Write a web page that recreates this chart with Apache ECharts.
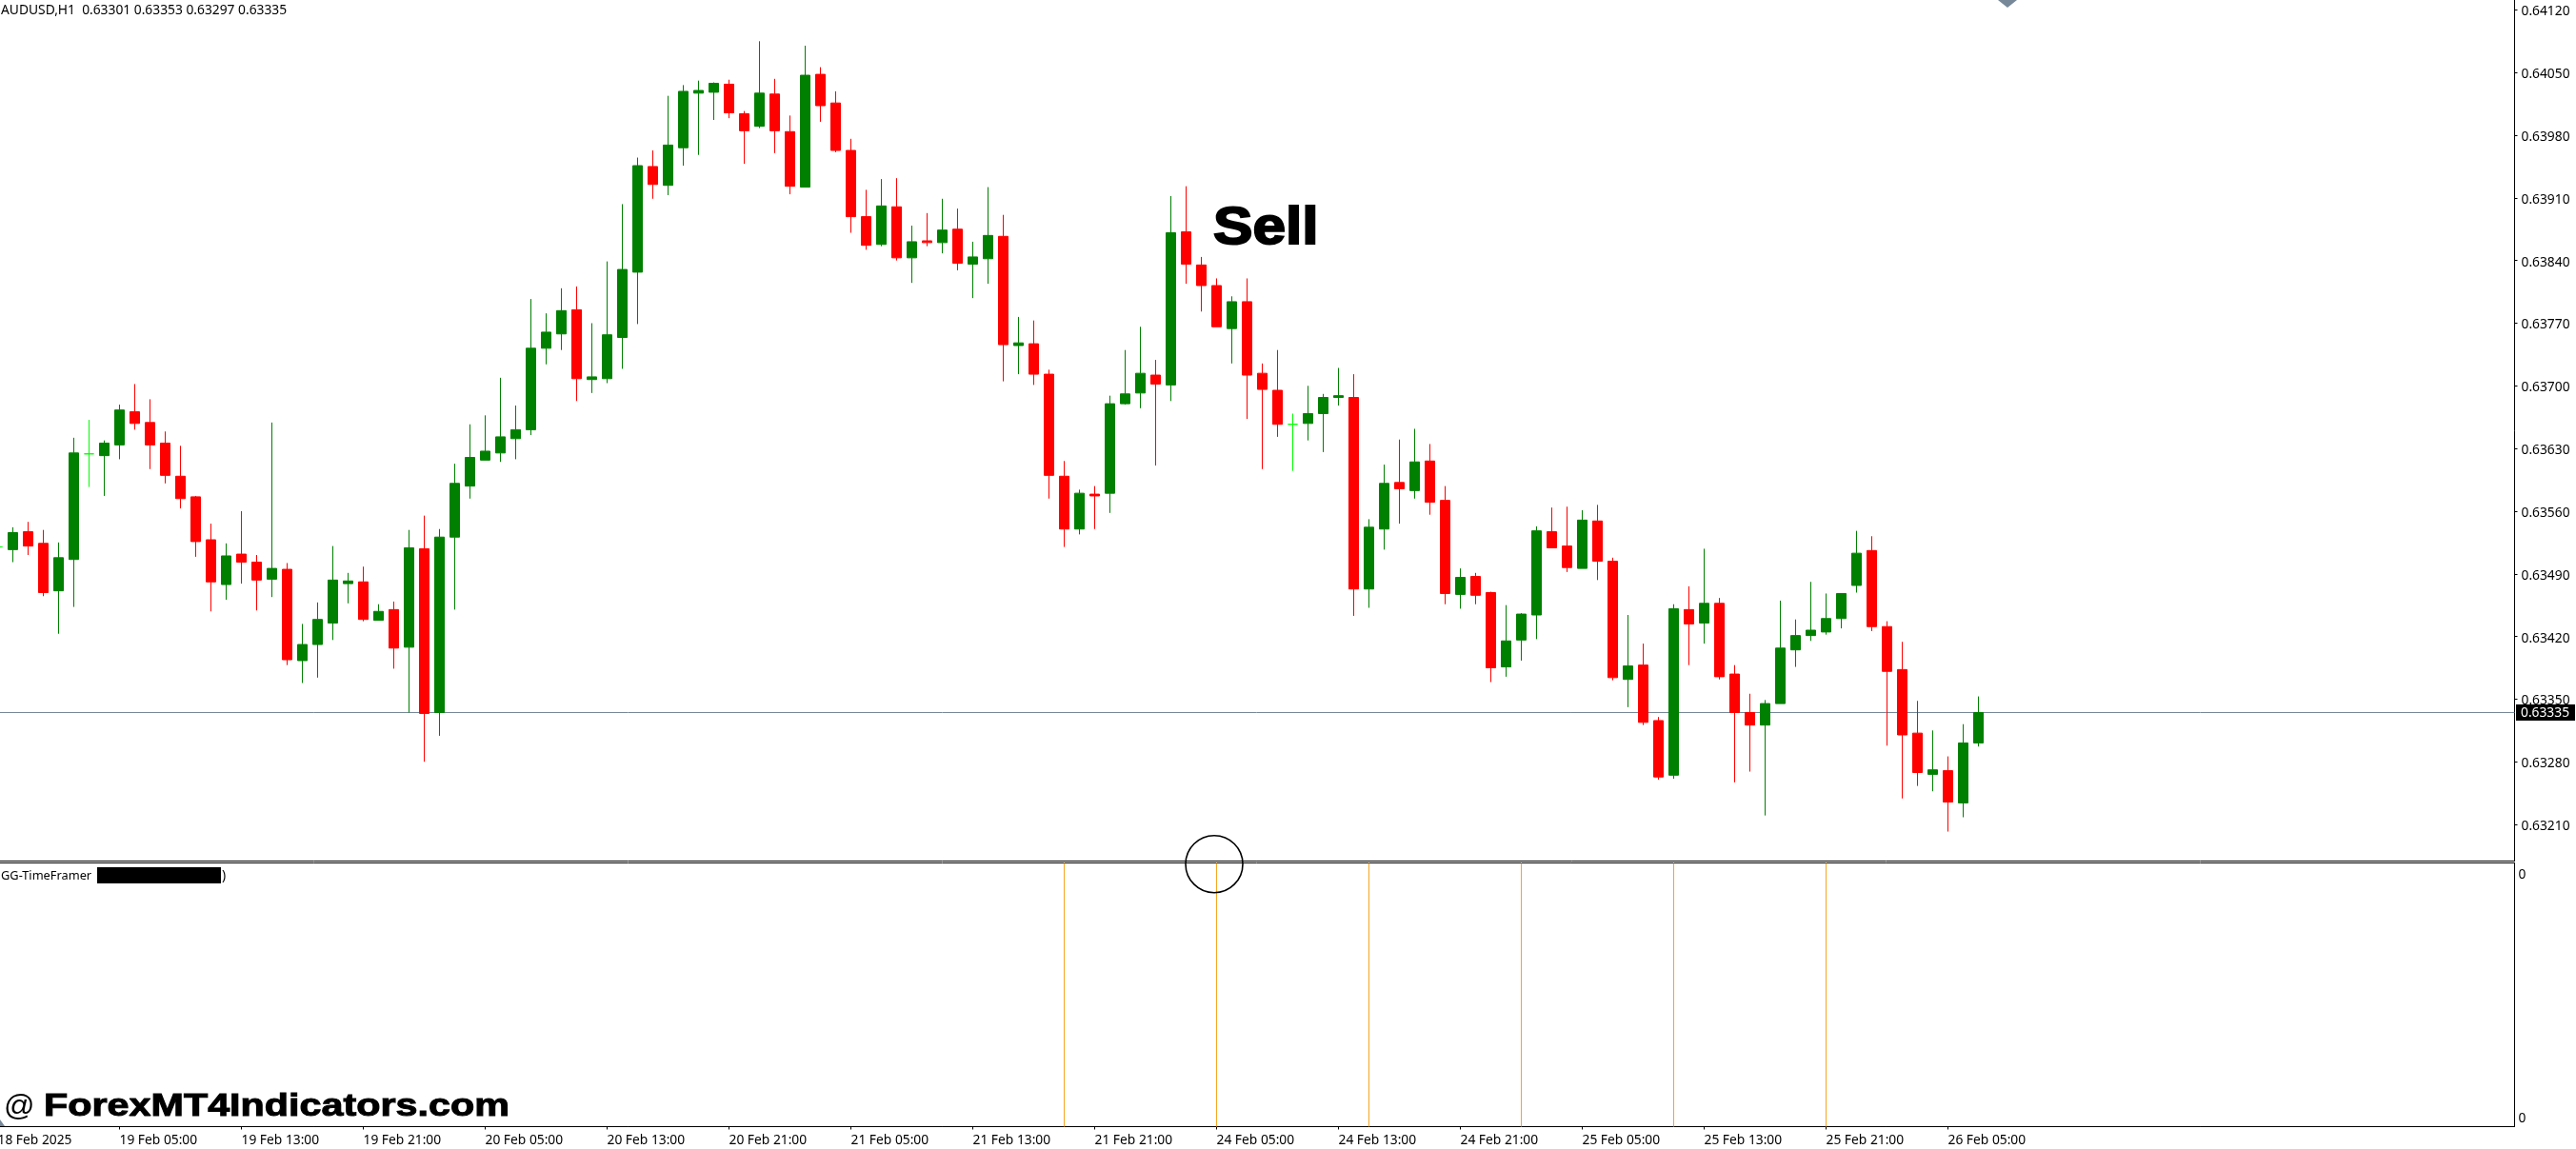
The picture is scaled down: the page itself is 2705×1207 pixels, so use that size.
<!DOCTYPE html>
<html>
<head>
<meta charset="utf-8">
<style>html,body{margin:0;padding:0;background:#fff}#c{width:2705px;height:1207px}</style>
<script src="https://cdn.jsdelivr.net/npm/echarts@6/dist/echarts.min.js"></script>
</head>
<body>
<div id="c"></div>
<script>
const symbolText = 'AUDUSD,H1  0.63301 0.63353 0.63297 0.63335';
const indicatorName = 'GG-TimeFramer';
const signalText = 'Sell';
const watermarkText = 'ForexMT4Indicators.com';
const lastPrice = 0.63335;
const priceTicks = [0.6412,0.6405,0.6398,0.6391,0.6384,0.6377,0.6370,0.6363,0.6356,0.6349,0.6342,0.6335,0.6328,0.6321];
const timeLabels = ['18 Feb 2025','19 Feb 05:00','19 Feb 13:00','19 Feb 21:00','20 Feb 05:00','20 Feb 13:00','20 Feb 21:00','21 Feb 05:00','21 Feb 13:00','21 Feb 21:00','24 Feb 05:00','24 Feb 13:00','24 Feb 21:00','25 Feb 05:00','25 Feb 13:00','25 Feb 21:00','26 Feb 05:00'];
const timeframeMarks = [70,80,90,100,110,120];

const opens = [0.63520,0.63517,0.63537,0.63524,0.63471,0.63506,0.63624,0.63622,0.63634,0.63671,0.63659,0.63636,0.63599,0.63576,0.63528,0.63478,0.63512,0.63503,0.63484,0.63495,0.63393,0.63411,0.63435,0.63479,0.63481,0.63438,0.63450,0.63408,0.63518,0.63335,0.63531,0.63588,0.63617,0.63625,0.63641,0.63651,0.63742,0.63758,0.63785,0.63707,0.63708,0.63754,0.63827,0.63945,0.63924,0.63966,0.64027,0.64028,0.64037,0.64004,0.63990,0.64026,0.63984,0.63922,0.64048,0.64016,0.63963,0.63889,0.63858,0.63900,0.63843,0.63862,0.63860,0.63875,0.63836,0.63842,0.63867,0.63745,0.63747,0.63713,0.63599,0.63540,0.63579,0.63580,0.63680,0.63692,0.63712,0.63701,0.63872,0.63835,0.63812,0.63764,0.63794,0.63714,0.63695,0.63657,0.63658,0.63669,0.63687,0.63687,0.63473,0.63540,0.63592,0.63583,0.63616,0.63572,0.63467,0.63487,0.63469,0.63386,0.63416,0.63444,0.63537,0.63521,0.63496,0.63549,0.63504,0.63372,0.63388,0.63326,0.63265,0.63450,0.63435,0.63457,0.63378,0.63335,0.63321,0.63345,0.63405,0.63421,0.63425,0.63440,0.63477,0.63516,0.63431,0.63383,0.63312,0.63266,0.63270,0.63234,0.63301];
const closes = [0.63520,0.63536,0.63521,0.63469,0.63508,0.63625,0.63624,0.63636,0.63673,0.63658,0.63634,0.63600,0.63574,0.63526,0.63481,0.63510,0.63503,0.63483,0.63496,0.63394,0.63411,0.63439,0.63483,0.63482,0.63439,0.63448,0.63407,0.63519,0.63334,0.63531,0.63591,0.63620,0.63627,0.63643,0.63651,0.63742,0.63760,0.63784,0.63708,0.63710,0.63757,0.63830,0.63946,0.63925,0.63969,0.64029,0.64030,0.64038,0.64005,0.63985,0.64027,0.63985,0.63923,0.64047,0.64013,0.63963,0.63889,0.63857,0.63901,0.63843,0.63861,0.63860,0.63874,0.63837,0.63844,0.63868,0.63746,0.63748,0.63713,0.63600,0.63540,0.63580,0.63577,0.63680,0.63691,0.63714,0.63702,0.63871,0.63836,0.63812,0.63766,0.63794,0.63712,0.63696,0.63657,0.63657,0.63669,0.63687,0.63689,0.63473,0.63542,0.63591,0.63585,0.63615,0.63570,0.63468,0.63486,0.63466,0.63385,0.63415,0.63445,0.63538,0.63519,0.63497,0.63550,0.63504,0.63374,0.63387,0.63324,0.63263,0.63451,0.63434,0.63457,0.63375,0.63335,0.63321,0.63345,0.63407,0.63421,0.63427,0.63440,0.63468,0.63513,0.63431,0.63381,0.63310,0.63268,0.63271,0.63235,0.63301,0.63335];
const lows = [0.63510,0.63503,0.63511,0.63465,0.63423,0.63453,0.63587,0.63577,0.63618,0.63651,0.63607,0.63591,0.63563,0.63509,0.63448,0.63461,0.63479,0.63449,0.63464,0.63388,0.63368,0.63374,0.63416,0.63457,0.63437,0.63438,0.63384,0.63335,0.63280,0.63309,0.63450,0.63574,0.63617,0.63615,0.63618,0.63645,0.63724,0.63740,0.63683,0.63692,0.63703,0.63719,0.63769,0.63909,0.63913,0.63946,0.63958,0.63997,0.63999,0.63948,0.63988,0.63960,0.63914,0.63922,0.63995,0.63961,0.63871,0.63852,0.63856,0.63840,0.63815,0.63856,0.63848,0.63829,0.63798,0.63814,0.63705,0.63713,0.63701,0.63574,0.63520,0.63534,0.63540,0.63558,0.63679,0.63675,0.63611,0.63683,0.63814,0.63783,0.63766,0.63725,0.63663,0.63607,0.63643,0.63605,0.63639,0.63626,0.63678,0.63443,0.63452,0.63517,0.63546,0.63574,0.63556,0.63456,0.63451,0.63456,0.63369,0.63375,0.63393,0.63417,0.63519,0.63492,0.63496,0.63483,0.63371,0.63341,0.63321,0.63260,0.63261,0.63388,0.63412,0.63372,0.63257,0.63269,0.63220,0.63345,0.63386,0.63415,0.63422,0.63429,0.63469,0.63426,0.63298,0.63239,0.63253,0.63247,0.63202,0.63218,0.63297];
const highs = [0.63530,0.63542,0.63548,0.63539,0.63525,0.63642,0.63662,0.63639,0.63679,0.63702,0.63685,0.63649,0.63633,0.63577,0.63546,0.63524,0.63560,0.63511,0.63659,0.63502,0.63434,0.63458,0.63521,0.63491,0.63498,0.63456,0.63459,0.63539,0.63555,0.63540,0.63613,0.63657,0.63667,0.63709,0.63678,0.63797,0.63781,0.63809,0.63811,0.63770,0.63839,0.63903,0.63955,0.63963,0.64024,0.64036,0.64041,0.64039,0.64042,0.64007,0.64085,0.64043,0.64002,0.64080,0.64056,0.64029,0.63976,0.63919,0.63931,0.63932,0.63879,0.63893,0.63909,0.63898,0.63861,0.63922,0.63891,0.63777,0.63773,0.63718,0.63616,0.63584,0.63588,0.63689,0.63740,0.63766,0.63729,0.63912,0.63923,0.63844,0.63820,0.63800,0.63820,0.63725,0.63740,0.63669,0.63700,0.63691,0.63720,0.63713,0.63551,0.63612,0.63640,0.63652,0.63635,0.63588,0.63496,0.63491,0.63470,0.63455,0.63446,0.63543,0.63564,0.63565,0.63561,0.63567,0.63508,0.63444,0.63412,0.63330,0.63456,0.63476,0.63518,0.63463,0.63388,0.63356,0.63349,0.63460,0.63439,0.63481,0.63468,0.63468,0.63538,0.63532,0.63437,0.63414,0.63348,0.63315,0.63286,0.63322,0.63353];

const candles = opens.map((o, i) => [i, o, closes[i], lows[i], highs[i]]);
const tfBars = timeframeMarks.map(x => [x, 1]);

const FONT = '"Noto Sans"';
const FS = 13.8;
const X_MAX = 165.1875;

const chart = echarts.init(document.getElementById('c'), null, {renderer:'canvas', width:2705, height:1207});

const xBase = {type:'value', min:0, max:X_MAX, splitLine:{show:false}};
const option = {
  animation:false,
  backgroundColor:'#ffffff',
  grid:[
    {left:-2.5, right:64.5, top:0, bottom:302.5, containLabel:false, outerBoundsMode:'none'},
    {left:-2.5, right:64.5, top:906.5, bottom:23.5, containLabel:false, outerBoundsMode:'none', show:true, borderColor:'#000', borderWidth:1, backgroundColor:'transparent'}
  ],
  xAxis:[
    Object.assign({}, xBase, {gridIndex:0, axisLine:{show:true, onZero:false, lineStyle:{color:'#000',width:1}}, axisTick:{show:false}, axisLabel:{show:false}}),
    Object.assign({}, xBase, {gridIndex:1, axisLine:{show:true, onZero:false, lineStyle:{color:'#000',width:1}},
      axisTick:{show:true, length:3, lineStyle:{color:'#000',width:1}, customValues:timeLabels.map((_, i) => i*8)},
      axisLabel:{show:true, color:'#000', fontFamily:FONT, fontSize:FS, align:'left', margin:8, hideOverlap:false,
        customValues:timeLabels.map((_, i) => i*8),
        formatter:v => timeLabels[Math.round(v/8)] || ''}})
  ],
  yAxis:[
    {type:'value', gridIndex:0, position:'right', min:0.63169088, max:0.64131061, scale:true, splitLine:{show:false},
      axisLine:{show:true, onZero:false, lineStyle:{color:'#000',width:1}},
      axisTick:{show:true, length:3, lineStyle:{color:'#000',width:1}, customValues:priceTicks},
      axisLabel:{show:true, color:'#000', fontFamily:FONT, fontSize:FS, margin:7, verticalAlign:'top', lineHeight:4, hideOverlap:false, customValues:priceTicks,
        formatter:v => v.toFixed(5)}},
    {type:'value', gridIndex:1, position:'right', min:0, max:1, splitLine:{show:false},
      axisLine:{show:true, onZero:false, lineStyle:{color:'#000',width:1}},
      axisTick:{show:false},
      axisLabel:{show:true, color:'#000', fontFamily:FONT, fontSize:FS, margin:4, verticalAlign:'top', lineHeight:2, hideOverlap:false, customValues:[0.0325,0.96],
        formatter:() => '0'}}
  ],
  series:[
    {type:'line', name:'Last', xAxisIndex:0, yAxisIndex:0, z:1, symbol:'none', silent:true,
      lineStyle:{color:'#778899', width:1}, data:[[0,lastPrice],[X_MAX,lastPrice]]},
    {type:'candlestick', name:'AUDUSD', xAxisIndex:0, yAxisIndex:0, z:3, barWidth:10, silent:true,
      itemStyle:{color:'#008000', color0:'#ff0000', borderColor:'#008000', borderColor0:'#ff0000', borderColorDoji:'#00ff00', borderWidth:1},
      data:candles},
    {type:'bar', name:indicatorName, xAxisIndex:1, yAxisIndex:1, barWidth:1, silent:true,
      itemStyle:{color:'#f5a623'}, data:tfBars}
  ],
  graphic:[]
};
chart.setOption(option);

const lastY = chart.convertToPixel({yAxisIndex:0}, lastPrice);
const textBase = {fontFamily:FONT, fontSize:FS, fill:'#000', verticalAlign:'middle', align:'left'};
const heavy = {fontFamily:'"Liberation Sans"', fontWeight:'bold', fill:'#000', stroke:'#000', verticalAlign:'middle', align:'left'};
chart.setOption({graphic:[
  {type:'text', x:1, y:11.5, z:50, style:Object.assign({text:symbolText}, textBase)},
  {type:'text', x:1, y:920, z:50, style:Object.assign({}, textBase, {text:indicatorName, fontSize:12.8})},
  {type:'rect', x:102, y:911, z:50, shape:{width:130, height:17}, style:{fill:'#000'}},
  {type:'text', x:233, y:920, z:50, style:Object.assign({text:')'}, textBase)},
  {type:'rect', x:2642, y:lastY-8.5, z:50, shape:{width:62, height:17}, style:{fill:'#000'}},
  {type:'text', x:2647, y:lastY+0.5, z:51, style:Object.assign({}, textBase, {text:lastPrice.toFixed(5), fill:'#fff'})},
  {type:'text', x:1274, y:241, z:50, scaleX:1.13, style:Object.assign({}, heavy, {text:signalText, fontSize:55, lineWidth:2})},
  {type:'text', x:4, y:1163, z:50, style:{text:'@', fontFamily:'"Liberation Sans"', fontSize:32, fill:'#000', verticalAlign:'middle', align:'left'}},
  {type:'text', x:46, y:1163, z:50, scaleX:1.215, style:Object.assign({}, heavy, {text:watermarkText, fontSize:34, lineWidth:1})},
  {type:'circle', z:50, shape:{cx:1275, cy:907.7, r:30}, style:{fill:'none', stroke:'#000', lineWidth:1.6}},
  {type:'polygon', z:50, shape:{points:[[2098,0],[2118,0],[2108,8]]}, style:{fill:'#778899'}},
  {type:'polygon', z:50, shape:{points:[[0,1176],[0,1183],[5,1183]]}, style:{fill:'#778899'}}
]});
</script>
</body>
</html>
